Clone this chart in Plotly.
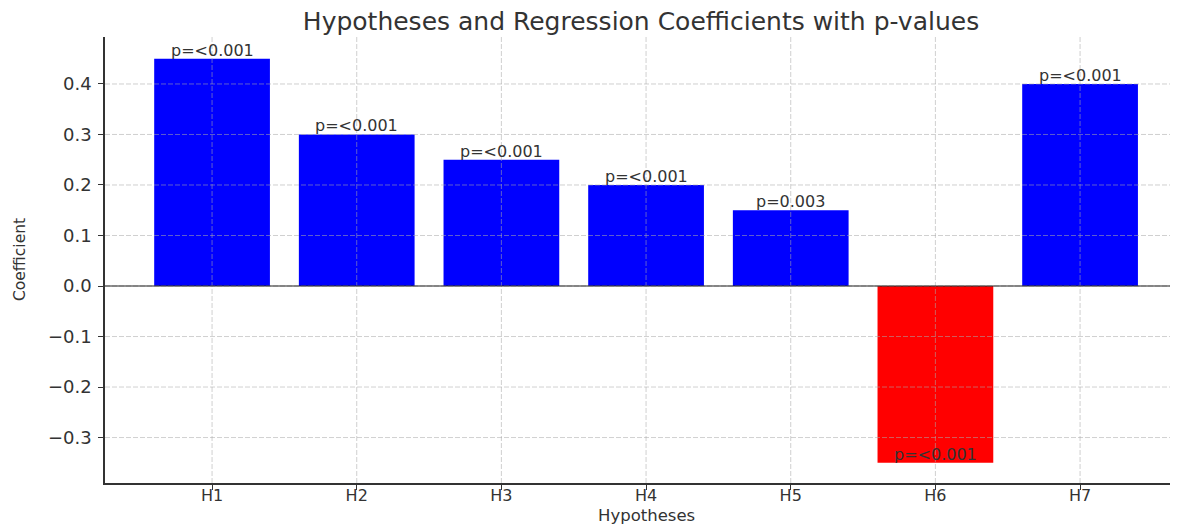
import plotly.graph_objects as go

hypotheses = ["H1", "H2", "H3", "H4", "H5", "H6", "H7"]
coefficients = [0.45, 0.30, 0.25, 0.20, 0.15, -0.35, 0.40]
p_labels = ["p=<0.001", "p=<0.001", "p=<0.001", "p=<0.001", "p=0.003", "p=<0.001", "p=<0.001"]
bar_colors = ["blue", "blue", "blue", "blue", "blue", "red", "blue"]
y_ticks = [-0.3, -0.2, -0.1, 0.0, 0.1, 0.2, 0.3, 0.4]
y_tick_text = ["\u22120.3", "\u22120.2", "\u22120.1", "0.0", "0.1", "0.2", "0.3", "0.4"]

x_pos = list(range(len(hypotheses)))
FONT = "DejaVu Sans"
TXT = "#333333"
GRID = "rgba(170,170,170,0.55)"

fig = go.Figure()
fig.add_trace(go.Bar(
    x=x_pos, y=coefficients, width=0.8,
    marker=dict(color=bar_colors, line=dict(width=0)),
    showlegend=False,
))

# grid lines drawn above the bars (as in the reference)
for yv in y_ticks:
    fig.add_shape(type="line", xref="paper", x0=0, x1=1, yref="y", y0=yv, y1=yv,
                  line=dict(color=GRID, width=1, dash="5px,2px"), layer="above")
for xv in x_pos:
    fig.add_shape(type="line", xref="x", x0=xv, x1=xv, yref="paper", y0=0, y1=1,
                  line=dict(color=GRID, width=1, dash="5px,2px"), layer="above")

fig.add_shape(type="line", xref="paper", x0=0, x1=1, yref="y", y0=0, y1=0,
              line=dict(color="#222222", width=1.2), layer="above")

for xi, yi, lab in zip(x_pos, coefficients, p_labels):
    fig.add_annotation(x=xi, y=yi, text=lab, showarrow=False,
                       xanchor="center", yanchor="bottom", yshift=-3,
                       font=dict(family=FONT, size=16, color=TXT))

# axis titles
fig.add_annotation(xref="x", x=3, yref="paper", y=0, yanchor="middle", yshift=-32,
                   text="Hypotheses", showarrow=False,
                   font=dict(family=FONT, size=16.5, color=TXT))
fig.add_annotation(xref="paper", x=0, xshift=-85, xanchor="center",
                   yref="paper", y=0.5, yanchor="middle", textangle=-90,
                   text="Coefficient", showarrow=False,
                   font=dict(family=FONT, size=15.5, color=TXT))

fig.update_layout(
    width=1170, height=518,
    margin=dict(l=97, r=1, t=29, b=43),
    plot_bgcolor="white", paper_bgcolor="white",
    title=dict(text="Hypotheses and Regression Coefficients with p-values",
               x=(641 - 8) / 1170, xanchor="center", y=1 - 13 / 518, yanchor="middle",
               font=dict(family=FONT, size=25, color=TXT)),
    xaxis=dict(range=[-0.74, 6.67], tickvals=x_pos, ticktext=hypotheses,
               showline=True, linecolor="#333333", linewidth=1.5,
               ticks="outside", ticklen=5, tickcolor="#333333",
               ticklabelstandoff=-8,
               tickfont=dict(family=FONT, size=16, color=TXT),
               showgrid=False, zeroline=False),
    yaxis=dict(range=[-0.39, 0.493], tickvals=y_ticks, ticktext=y_tick_text,
               showline=True, linecolor="#333333", linewidth=1.5,
               ticks="outside", ticklen=5, tickcolor="#333333",
               ticklabelstandoff=3,
               tickfont=dict(family=FONT, size=18, color=TXT),
               showgrid=False, zeroline=False),
)

fig.write_html("out.html")
